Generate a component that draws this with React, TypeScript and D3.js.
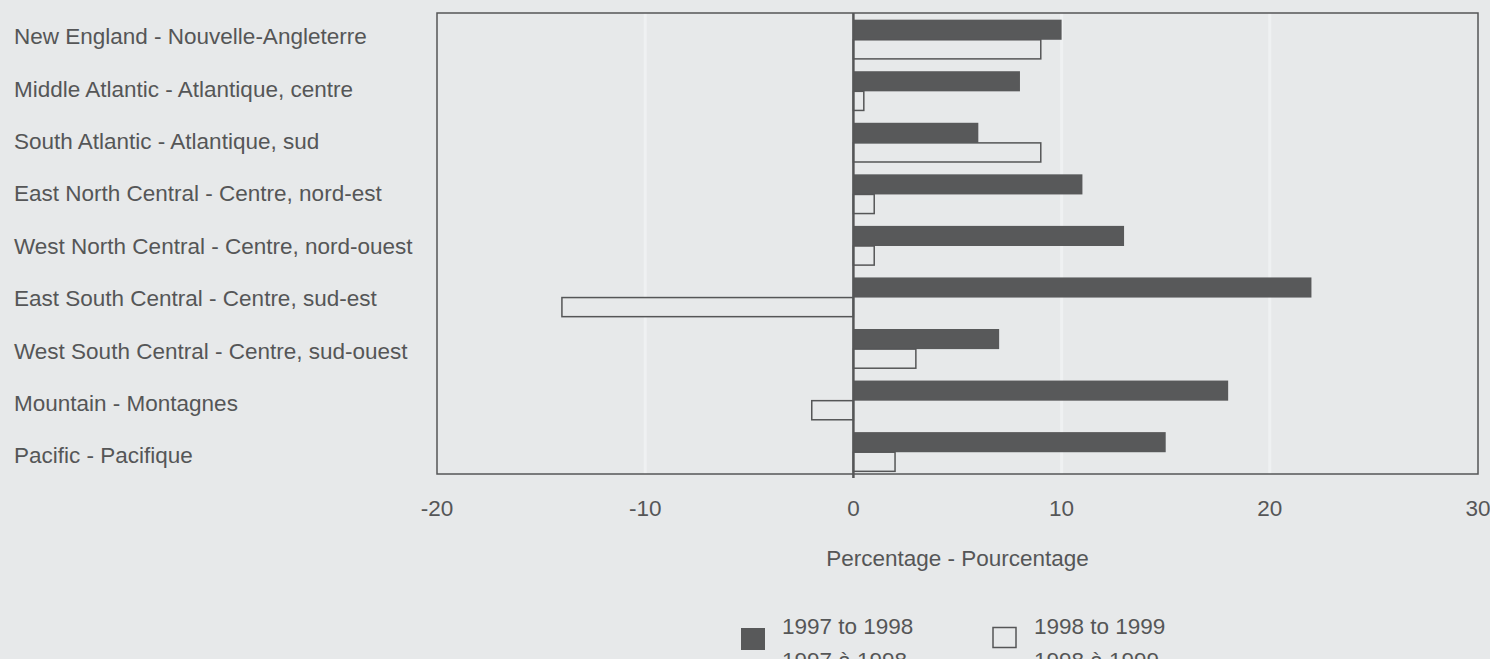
import React from "react";
import * as d3 from "d3";

const categories = [
  "New England - Nouvelle-Angleterre",
  "Middle Atlantic - Atlantique, centre",
  "South Atlantic - Atlantique, sud",
  "East North Central - Centre, nord-est",
  "West North Central - Centre, nord-ouest",
  "East South Central - Centre, sud-est",
  "West South Central - Centre, sud-ouest",
  "Mountain - Montagnes",
  "Pacific - Pacifique",
];
const series9798 = [10, 8, 6, 11, 13, 22, 7, 18, 15];
const series9899 = [9, 0.5, 9, 1, 1, -14, 3, -2, 2];
const xTicks = [-20, -10, 0, 10, 20, 30];
const gridTicks = [-10, 10, 20];
const axisTitle = "Percentage - Pourcentage";
const legendItems = [
  { l1: "1997 to 1998", l2: "1997 à 1998", dark: true },
  { l1: "1998 to 1999", l2: "1998 à 1999", dark: false },
];

const W = 1490;
const H = 659;
const BG = "#e7e9ea";
const INK = "#555657";
const BAR = "#58595a";
const FONT = "'Liberation Sans', Arial, Helvetica, sans-serif";

export default function App() {
  const plot = { left: 437, right: 1478, top: 13, bottom: 474 };
  const x = d3.scaleLinear().domain([-20, 30]).range([plot.left, plot.right]);
  const y = d3
    .scaleBand<string>()
    .domain(categories)
    .range([14, 478])
    .paddingInner(0.22)
    .paddingOuter(0.11);
  const labelY = d3.scalePoint<string>().domain(categories).range([44.3, 463.3]);
  const half = y.bandwidth() / 2;

  return (
    <svg
      width={W}
      height={H}
      style={{ position: "fixed", left: 0, top: 0, background: BG }}
      fontFamily={FONT}
    >
      <rect x={0} y={0} width={W} height={H} fill={BG} />
      {gridTicks.map((t) => (
        <line
          key={"g" + t}
          x1={x(t)}
          x2={x(t)}
          y1={plot.top}
          y2={plot.bottom}
          stroke="#eff1f2"
          strokeWidth={3}
        />
      ))}
      <rect
        x={plot.left}
        y={plot.top}
        width={plot.right - plot.left}
        height={plot.bottom - plot.top}
        fill="none"
        stroke={INK}
        strokeWidth={1.5}
      />
      {categories.map((c, i) => {
        const v1 = series9798[i];
        const v2 = series9899[i];
        const y0 = y(c) as number;
        return (
          <g key={c}>
            <rect
              x={Math.min(x(0), x(v1))}
              y={y0}
              width={Math.abs(x(v1) - x(0))}
              height={half}
              fill={BAR}
            />
            <rect
              x={Math.min(x(0), x(v2))}
              y={y0 + half}
              width={Math.abs(x(v2) - x(0))}
              height={half - 1}
              fill={BG}
              stroke={INK}
              strokeWidth={1.5}
            />
          </g>
        );
      })}
      <line
        x1={x(0)}
        x2={x(0)}
        y1={plot.top}
        y2={plot.bottom + 4}
        stroke={INK}
        strokeWidth={2.5}
      />
      {categories.map((c) => (
        <text key={"l" + c} x={14} y={labelY(c)} fontSize={22.5} fill={INK}>
          {c}
        </text>
      ))}
      {xTicks.map((t) => (
        <text
          key={"t" + t}
          x={x(t)}
          y={516}
          fontSize={22.5}
          fill={INK}
          textAnchor="middle"
        >
          {t}
        </text>
      ))}
      <text
        x={(plot.left + plot.right) / 2}
        y={566}
        fontSize={22.5}
        fill={INK}
        textAnchor="middle"
      >
        {axisTitle}
      </text>
      {legendItems.map((it, i) => {
        const lx = i === 0 ? 741 : 993;
        return (
          <g key={it.l1}>
            {it.dark ? (
              <rect x={lx} y={628} width={24} height={22} fill={BAR} />
            ) : (
              <rect
                x={lx}
                y={627.5}
                width={23}
                height={20}
                fill={BG}
                stroke={INK}
                strokeWidth={1.5}
              />
            )}
            <text x={lx + 41} y={634} fontSize={22.5} fill={INK}>
              {it.l1}
            </text>
            <text x={lx + 41} y={668} fontSize={22.5} fill={INK}>
              {it.l2}
            </text>
          </g>
        );
      })}
    </svg>
  );
}
